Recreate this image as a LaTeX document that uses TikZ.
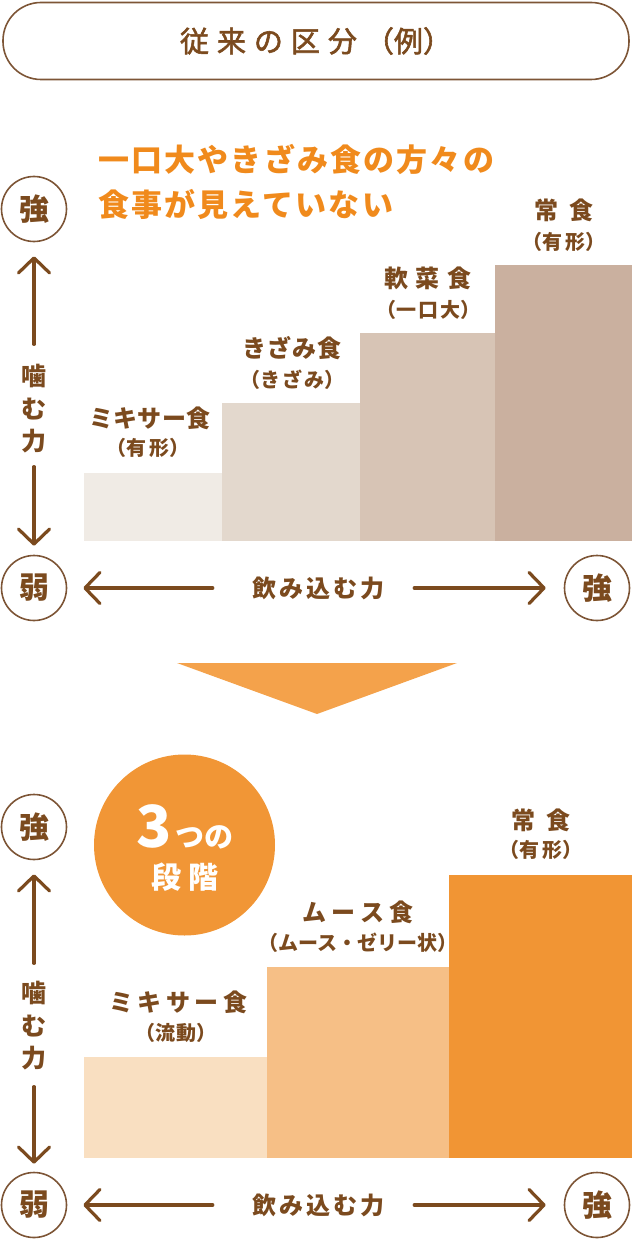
\documentclass[tikz,border=0pt]{standalone}
\usepackage{fontspec}
\setmainfont{Noto Sans CJK JP}
\usetikzlibrary{arrows.meta}

\definecolor{kbrown}{HTML}{7B4A1E}
\definecolor{kline}{HTML}{7D5536}
\definecolor{korange}{HTML}{F08A1C}
\definecolor{ktri}{HTML}{F4A24B}
\definecolor{kdisc}{HTML}{F19636}
\definecolor{oldA}{HTML}{F0EBE5}
\definecolor{oldB}{HTML}{E3D8CD}
\definecolor{oldC}{HTML}{D7C4B5}
\definecolor{oldD}{HTML}{CAB09F}
\definecolor{newA}{HTML}{F9DFC1}
\definecolor{newB}{HTML}{F6BF86}
\definecolor{newC}{HTML}{F19534}

\begin{document}
\begin{tikzpicture}[x=1pt,y=-1pt,
  pole/.style={draw=kline, line width=1.6pt, shape=circle, minimum size=65pt, inner sep=0pt,
    text=kbrown, font=\bfseries\fontsize{30}{30}\selectfont},
  axis/.style={draw=kbrown, line width=3.2pt, line cap=round,
    -{Straight Barb[length=15pt,width=31pt,round]}},
  chew/.style={text=kbrown, font=\bfseries\fontsize{25}{32.5}\selectfont, align=center, inner sep=0pt},
  food/.style={text=kbrown, font=\bfseries\fontsize{24}{24}\selectfont, inner sep=0pt},
  form/.style={text=kbrown, font=\bfseries\fontsize{20}{20}\selectfont, inner sep=0pt},
]
\useasboundingbox (0,0) rectangle (632,1241);

% heading
\node[draw=kline, line width=1.6pt, rounded corners=38pt, minimum width=626pt, minimum height=77pt,
  text=kbrown, font=\fontsize{29}{29}\selectfont\addfontfeature{FakeBold=2}] (title) at (316,41)
  {従\kern8pt 来\kern8pt の\kern8pt 区\kern8pt 分\kern8pt （例）};

% old steps
\node[anchor=west, align=left, inner sep=0pt, text=korange,
  font=\bfseries\fontsize{31}{45}\selectfont\addfontfeature{LetterSpace=7}] (lead) at (98,182)
  {一口大やきざみ食の方々の\\食事が見えていない};

\fill[oldA] (84,473) rectangle (222,541);
\fill[oldB] (222,403) rectangle (360,541);
\fill[oldC] (360,333) rectangle (495,541);
\fill[oldD] (495,265) rectangle (632,541);

\node[food] (mixA) at (150,418) {ミ\kern0.5pt キ\kern0.5pt サ\kern0.5pt ー\kern0.5pt 食};
\node[form] (mixAf) at (148,448) {（有\kern3pt 形）};
\node[food] (kizA) at (292,348) {き\kern1pt ざ\kern1pt み\kern1pt 食};
\node[form] (kizAf) at (292,380) {（き\kern2pt ざ\kern2pt み）};
\node[food] (softA) at (428,278) {軟\kern8pt 菜\kern8pt 食};
\node[form] (softAf) at (428,310) {（一\kern2pt 口\kern2pt 大）};
\node[food] (normA) at (564,210) {常\kern11pt 食};
\node[form] (normAf) at (564,242) {（有\kern3pt 形）};

\node[pole] (strA) at (34,209) {強};
\node[pole] (weakA) at (34,588) {弱};
\node[pole] (strB) at (597,588) {強};
\node[chew] (chewA) at (34,409) {噛\\む\\力};
\node[food] (swalA) at (318,588) {飲\kern3pt み\kern3pt 込\kern3pt む\kern3pt 力};

\draw[axis, shorten <=20pt, shorten >=14pt] (chewA) -- (strA);
\draw[axis, shorten <=13pt, shorten >=9pt] (chewA) -- (weakA);
\draw[axis, shorten <=39pt, shorten >=16pt] (swalA) -- (weakA);
\draw[axis, shorten <=30pt, shorten >=18pt] (swalA) -- (strB);

% turn
\fill[ktri] (177,663) -- (457,663) -- (317,714) -- cycle;

% new steps
\fill[newA] (84,1057) rectangle (267,1158);
\fill[newB] (267,967) rectangle (449,1158);
\fill[newC] (449,875) rectangle (632,1158);

\node[shape=circle, fill=kdisc, minimum size=181pt, inner sep=0pt] (stage) at (184.5,845) {};
\node[anchor=base, inner sep=0pt, text=white, font=\bfseries] (stageN) at (185,847)
  {\fontsize{58}{58}\selectfont 3\fontsize{29}{29}\selectfont\kern3pt つの};
\node[inner sep=0pt, text=white, font=\bfseries\fontsize{30}{30}\selectfont] (stageW) at (185,877)
  {段\kern8pt 階};

\node[food] (mixB) at (178,1002) {ミ\kern4.5pt キ\kern4.5pt サ\kern4.5pt ー\kern4.5pt 食};
\node[form] (mixBf) at (176,1033) {（流\kern1pt 動）};
\node[food] (mousB) at (358,912) {ム\kern5pt ー\kern5pt ス\kern5pt 食};
\node[form] (mousBf) at (358,943) {（ムース・ゼリー状）};
\node[food] (normB) at (541,820) {常\kern11pt 食};
\node[form] (normBf) at (541,850) {（有\kern3pt 形）};

\node[pole] (strC) at (34,827) {強};
\node[pole] (weakB) at (34,1205) {弱};
\node[pole] (strD) at (597,1205) {強};
\node[chew] (chewB) at (34,1026) {噛\\む\\力};
\node[food] (swalB) at (318,1205) {飲\kern3pt み\kern3pt 込\kern3pt む\kern3pt 力};

\draw[axis, shorten <=18pt, shorten >=14pt] (chewB) -- (strC);
\draw[axis, shorten <=16pt, shorten >=8pt] (chewB) -- (weakB);
\draw[axis, shorten <=39pt, shorten >=16pt] (swalB) -- (weakB);
\draw[axis, shorten <=30pt, shorten >=18pt] (swalB) -- (strD);
\end{tikzpicture}
\end{document}
